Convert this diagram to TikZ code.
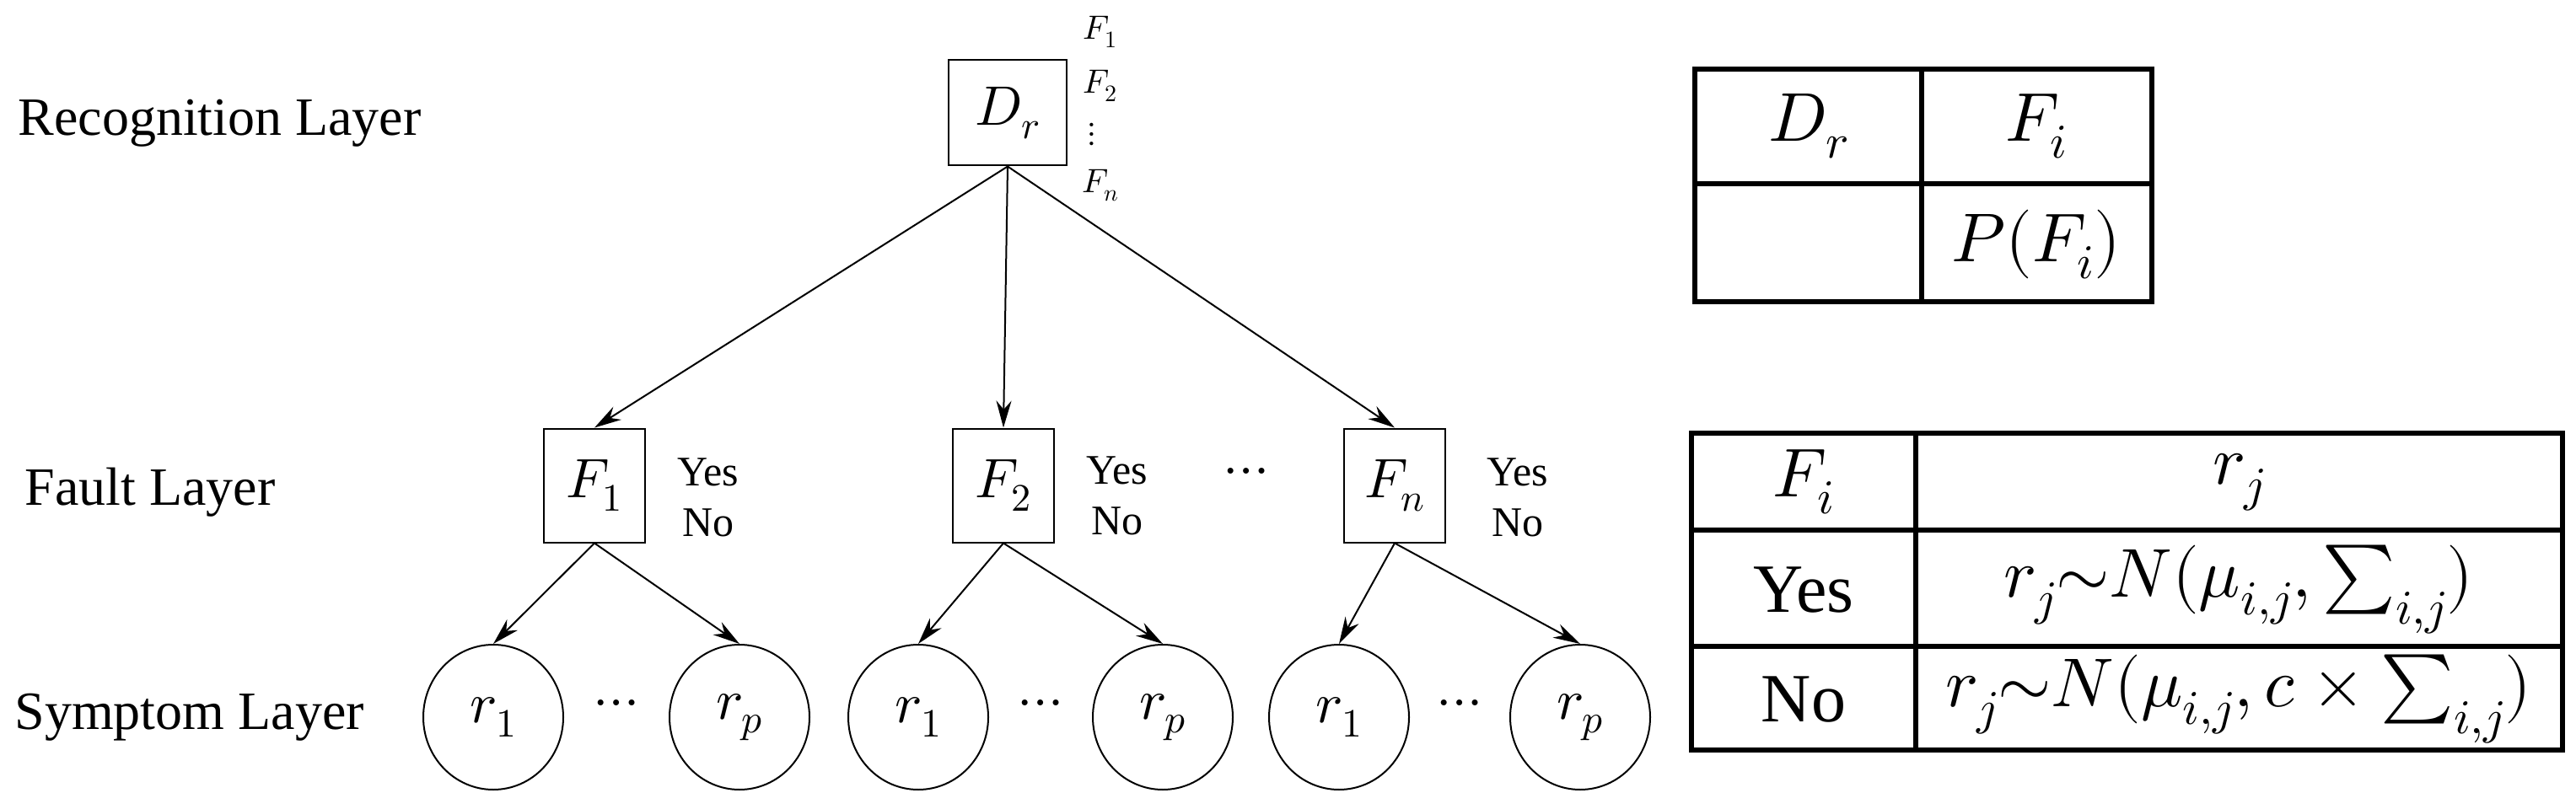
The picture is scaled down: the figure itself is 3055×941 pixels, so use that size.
\documentclass[tikz,border=0pt]{standalone}
\usepackage{fontspec}
\usepackage{unicode-math}
\setmathfont{Latin Modern Math}
\setmainfont{Liberation Serif}
\usetikzlibrary{arrows.meta,shapes.geometric}
\begin{document}
\begin{tikzpicture}[x=1pt,y=-1pt,
  box/.style={draw,line width=2pt,minimum width=120pt,minimum height=135pt,inner sep=0pt,font=\fontsize{66}{70}\selectfont},
  sym/.style={draw,line width=2pt,ellipse,minimum width=166pt,minimum height=172pt,inner sep=0pt,font=\fontsize{68}{70}\selectfont},
  lay/.style={anchor=west,font=\rmfamily\fontsize{64}{68}\selectfont},
  yn/.style={font=\rmfamily\fontsize{50}{60}\selectfont,align=center},
  sm/.style={font=\fontsize{40}{42}\selectfont},
  arr/.style={line width=2pt,-{Stealth[length=32pt,width=18pt]}},
  dots/.style={font=\fontsize{66}{66}\selectfont},
  tab/.style={line width=6pt},
  tt/.style={font=\rmfamily\fontsize{82}{86}\selectfont}]
\useasboundingbox (0,0) rectangle (3055,941);
\node[lay] (L1) at (18,146) {Recognition Layer};
\node[lay] (L2) at (26,584) {Fault Layer};
\node[lay] (L3) at (14,851) {Symptom Layer};

\node[box,minimum height=125pt,minimum width=140pt] (D) at (1195,134) {$D_r$};
\node[sm] (s1) at (1305,38) {$F_1$};
\node[sm] (s2) at (1305,102) {$F_2$};
\node[sm] (s3) at (1295,160) {$\vdots$};
\node[sm] (s4) at (1305,220) {$F_n$};

\node[box] (F1) at (705,576) {$F_1$};
\node[box] (F2) at (1190,576) {$F_2$};
\node[box] (Fn) at (1654,576) {$F_n$};
\node[yn] (y1) at (840,590) {Yes\\No};
\node[yn] (y2) at (1325,588) {Yes\\No};
\node[yn] (y3) at (1800,590) {Yes\\No};
\node[dots] (dd) at (1478,565) {$\cdots$};

\node[sym] (a1) at (585,851) {$r_1$};
\node[sym] (ap) at (877,851) {$r_p$};
\node[sym] (b1) at (1089,851) {$r_1$};
\node[sym] (bp) at (1379,851) {$r_p$};
\node[sym] (c1) at (1588,851) {$r_1$};
\node[sym] (cp) at (1874,851) {$r_p$};
\node[dots] (ad) at (731,840) {$\cdots$};
\node[dots] (bd) at (1234,840) {$\cdots$};
\node[dots] (cd) at (1731,840) {$\cdots$};

\draw[arr] (D.south) -- (F1.north);
\draw[arr] (D.south) -- (F2.north);
\draw[arr] (D.south) -- (Fn.north);
\draw[arr] (F1.south) -- (a1.north);
\draw[arr] (F1.south) -- (ap.north);
\draw[arr] (F2.south) -- (b1.north);
\draw[arr] (F2.south) -- (bp.north);
\draw[arr] (Fn.south) -- (c1.north);
\draw[arr] (Fn.south) -- (cp.north);

% table 1
\draw[tab] (2010,82) rectangle (2552,358);
\draw[tab] (2010,218) -- (2552,218);
\draw[tab] (2279,82) -- (2279,358);
\node[tt] (t11) at (2145,150) {$D_r$};
\node[tt] (t12) at (2415,150) {$F_i$};
\node[tt] (t22) at (2415,290) {$P(F_i)$};

% table 2
\draw[tab] (2006,514) rectangle (3039,890);
\draw[tab] (2006,629) -- (3039,629);
\draw[tab] (2006,767) -- (3039,767);
\draw[tab] (2272,514) -- (2272,890);
\node[tt] (u11) at (2139,572) {$F_i$};
\node[tt] (u12) at (2655,572) {$r_j$};
\node[tt] (u21) at (2139,700) {Yes};
\node[tt] (u22) at (2655,700) {$r_j{\sim}N(\mu_{i,j},\textstyle\sum_{i,j})$};
\node[tt] (u31) at (2139,830) {No};
\node[tt] (u32) at (2655,830) {$r_j{\sim}N(\mu_{i,j},c\times\textstyle\sum_{i,j})$};
\end{tikzpicture}
\end{document}
